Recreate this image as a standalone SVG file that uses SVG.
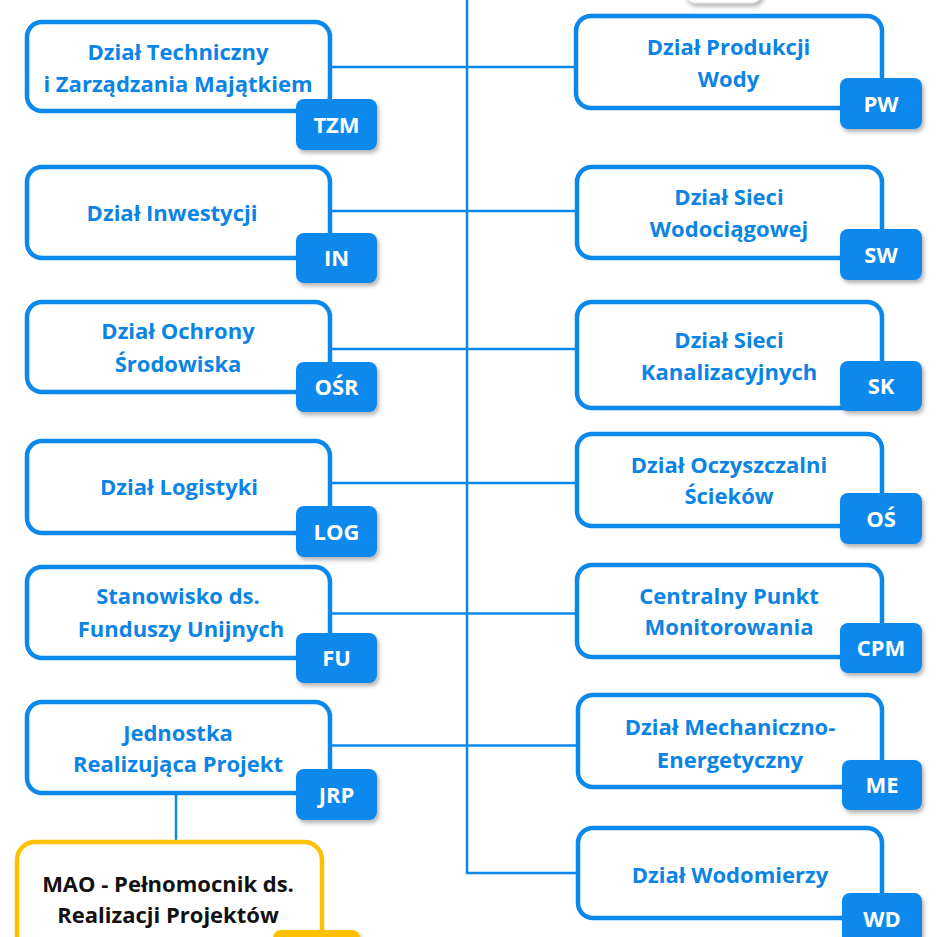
<svg xmlns="http://www.w3.org/2000/svg" width="940" height="937" viewBox="0 0 940 937">
<defs>
<filter id="sh" x="-20%" y="-20%" width="150%" height="160%">
<feDropShadow dx="2" dy="3" stdDeviation="2" flood-color="#000" flood-opacity="0.3"/>
</filter>
<style>
.box{fill:#fff;stroke:#0B88EC;stroke-width:4.5}
.mao{fill:#fff;stroke:#FFC000;stroke-width:4.5}
.tag{fill:#0B88EC;filter:url(#sh)}
.ytag{fill:#FFC000;filter:url(#sh)}
.t{font-family:"Open Sans","Liberation Sans",sans-serif;font-weight:bold;font-size:22px;fill:#0B84E6;text-anchor:middle}
.k{font-family:"Open Sans","Liberation Sans",sans-serif;font-weight:bold;font-size:22px;fill:#111;text-anchor:middle}
.w{font-family:"Open Sans","Liberation Sans",sans-serif;font-weight:bold;font-size:22px;fill:#fff;text-anchor:middle}
.c{fill:none;stroke:#0B88EC;stroke-width:2.5}
</style>
</defs>
<rect width="940" height="937" fill="#fff"/>
<g id="connectors">
<path class="c" d="M467 0 V873 H577"/>
<path class="c" d="M330 67 H576"/>
<path class="c" d="M330 211 H576"/>
<path class="c" d="M330 349 H576"/>
<path class="c" d="M330 483 H576"/>
<path class="c" d="M330 613.5 H576"/>
<path class="c" d="M330 745.5 H576"/>
<path class="c" d="M176 793 V842"/>
</g>
<g id="top-partial"><rect x="685" y="-50" width="77" height="53" rx="10" fill="#fff" stroke="#ddd" filter="url(#sh)"/></g>
<g id="TZM">
<rect class="box" x="27" y="22" width="303" height="89" rx="15"/>
<text class="t" x="178" y="60">Dział Techniczny</text>
<text class="t" x="178" y="92">i Zarządzania Majątkiem</text>
<rect class="tag" x="296" y="99" width="81" height="51" rx="8"/>
<text class="w" x="336.5" y="133">TZM</text>
</g>
<g id="IN">
<rect class="box" x="27" y="167" width="303" height="91" rx="15"/>
<text class="t" x="172" y="221">Dział Inwestycji</text>
<rect class="tag" x="296" y="233" width="81" height="50" rx="8"/>
<text class="w" x="336.5" y="266">IN</text>
</g>
<g id="OSR">
<rect class="box" x="27" y="302" width="303" height="90" rx="15"/>
<text class="t" x="178" y="339">Dział Ochrony</text>
<text class="t" x="178" y="372">Środowiska</text>
<rect class="tag" x="296" y="362" width="81" height="50" rx="8"/>
<text class="w" x="336.5" y="395">OŚR</text>
</g>
<g id="LOG">
<rect class="box" x="27" y="441" width="303" height="92" rx="15"/>
<text class="t" x="179" y="495">Dział Logistyki</text>
<rect class="tag" x="296" y="506" width="81" height="51" rx="8"/>
<text class="w" x="336.5" y="540">LOG</text>
</g>
<g id="FU">
<rect class="box" x="27" y="567" width="303" height="91" rx="15"/>
<text class="t" x="178" y="604">Stanowisko ds.</text>
<text class="t" x="181" y="637">Funduszy Unijnych</text>
<rect class="tag" x="296" y="633" width="81" height="50" rx="8"/>
<text class="w" x="336.5" y="666">FU</text>
</g>
<g id="JRP">
<rect class="box" x="27" y="702" width="303" height="91" rx="15"/>
<text class="t" x="178" y="741">Jednostka</text>
<text class="t" x="178" y="772">Realizująca Projekt</text>
<rect class="tag" x="296" y="769" width="81" height="51" rx="8"/>
<text class="w" x="336.5" y="803">JRP</text>
</g>
<g id="MAO">
<rect class="mao" x="17" y="842" width="305" height="140" rx="18"/>
<text class="k" x="168" y="892">MAO - Pełnomocnik ds.</text>
<text class="k" x="168" y="923">Realizacji Projektów</text>
<rect class="ytag" x="273" y="930" width="87" height="51" rx="8"/>
</g>
<g id="PW">
<rect class="box" x="576" y="16" width="306" height="92" rx="15"/>
<text class="t" x="728.5" y="55">Dział Produkcji</text>
<text class="t" x="728.5" y="87">Wody</text>
<rect class="tag" x="840" y="78" width="82" height="51" rx="8"/>
<text class="w" x="881" y="112">PW</text>
</g>
<g id="SW">
<rect class="box" x="577" y="167" width="305" height="91" rx="15"/>
<text class="t" x="729" y="205">Dział Sieci</text>
<text class="t" x="729" y="237">Wodociągowej</text>
<rect class="tag" x="840" y="229" width="82" height="51" rx="8"/>
<text class="w" x="881" y="263">SW</text>
</g>
<g id="SK">
<rect class="box" x="577" y="302" width="305" height="106" rx="15"/>
<text class="t" x="729" y="348">Dział Sieci</text>
<text class="t" x="729" y="380">Kanalizacyjnych</text>
<rect class="tag" x="840" y="361" width="82" height="50" rx="8"/>
<text class="w" x="881" y="394">SK</text>
</g>
<g id="OS">
<rect class="box" x="577" y="434" width="305" height="92" rx="15"/>
<text class="t" x="729" y="473">Dział Oczyszczalni</text>
<text class="t" x="729" y="504">Ścieków</text>
<rect class="tag" x="840" y="493" width="82" height="51" rx="8"/>
<text class="w" x="881" y="527">OŚ</text>
</g>
<g id="CPM">
<rect class="box" x="577" y="565" width="305" height="92" rx="15"/>
<text class="t" x="729" y="604">Centralny Punkt</text>
<text class="t" x="729" y="635">Monitorowania</text>
<rect class="tag" x="840" y="623" width="82" height="50" rx="8"/>
<text class="w" x="881" y="656">CPM</text>
</g>
<g id="ME">
<rect class="box" x="578" y="695" width="304" height="92" rx="15"/>
<text class="t" x="730" y="735">Dział Mechaniczno-</text>
<text class="t" x="730" y="768">Energetyczny</text>
<rect class="tag" x="842" y="760" width="80" height="50" rx="8"/>
<text class="w" x="882" y="793">ME</text>
</g>
<g id="WD">
<rect class="box" x="578" y="828" width="304" height="90" rx="15"/>
<text class="t" x="730" y="883">Dział Wodomierzy</text>
<rect class="tag" x="842" y="893" width="80" height="51" rx="8"/>
<text class="w" x="882" y="927">WD</text>
</g>
</svg>
